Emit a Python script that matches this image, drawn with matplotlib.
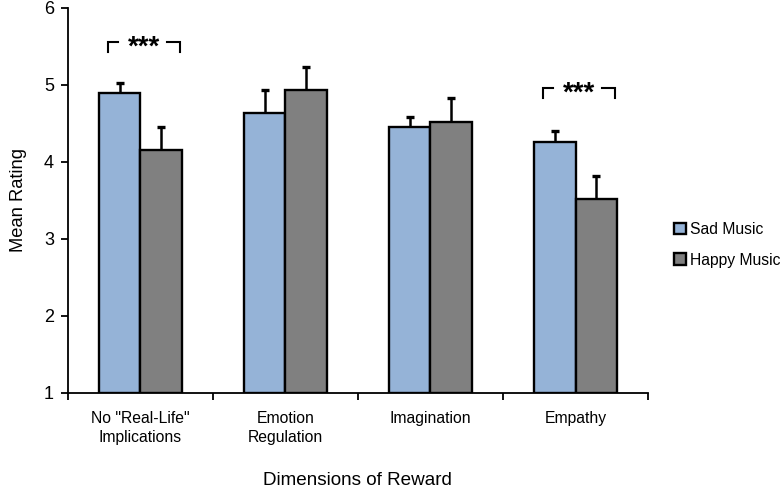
import matplotlib
matplotlib.use("Agg")
import matplotlib.pyplot as plt
import numpy as np

plt.rcParams['font.family'] = ['Liberation Sans', 'DejaVu Sans']

categories = ['No "Real-Life"\nImplications', 'Emotion\nRegulation', 'Imagination', 'Empathy']
sad_values = [4.89, 4.64, 4.45, 4.26]
sad_err = [0.13, 0.30, 0.13, 0.14]
happy_values = [4.16, 4.94, 4.52, 3.515]
happy_err = [0.29, 0.29, 0.31, 0.30]
series_names = ['Sad Music', 'Happy Music']
sig_cats = [0, 3]
sig_levels = [5.56, 4.96]
sig_label = '***'
yticks = [1, 2, 3, 4, 5, 6]

fig = plt.figure(figsize=(7.83, 4.90), dpi=100)
ax = fig.add_axes([0.0868, 0.198, 0.7408, 0.7857])

x = np.arange(len(categories))
w = 0.285
base = 1
sad_c = '#95B3D7'
happy_c = '#808080'

for offs, vals, errs, col, name in [(-w/2, sad_values, sad_err, sad_c, series_names[0]),
                                    (w/2, happy_values, happy_err, happy_c, series_names[1])]:
    vals = np.array(vals)
    errs = np.array(errs)
    ax.bar(x + offs, vals - base, w, bottom=base, color=col, edgecolor='black',
           linewidth=1.7, label=name, zorder=2)
    ax.vlines(x + offs, vals, vals + errs, color='black', lw=1.8, zorder=3)
    ax.plot(x + offs, vals + errs, linestyle='none', marker='_', markersize=6,
            markeredgewidth=2.4, color='black', zorder=3)

for c, lvl in zip(sig_cats, sig_levels):
    left = c - 0.224
    right = c + 0.272
    drop = 0.13
    ax.plot([left, left, c - 0.155], [lvl - drop, lvl, lvl], color='black', lw=1.5, zorder=3,
            solid_joinstyle='miter')
    ax.plot([c + 0.183, right, right], [lvl, lvl, lvl - drop], color='black', lw=1.5, zorder=3,
            solid_joinstyle='miter')
    ax.text(c + 0.024, lvl - 0.07, sig_label, ha='center', va='center', fontsize=20,
            fontweight='bold', zorder=4)

ax.set_xlim(-0.5, len(categories) - 0.5)
ax.set_ylim(1, 6)
ax.set_yticks(yticks)
ax.set_yticklabels([str(t) for t in yticks], fontsize=13)
ax.set_xticks(np.arange(len(categories) + 1) - 0.5)
ax.set_xticklabels([])
ax.set_xticks(x, minor=True)
ax.set_xticklabels(categories, minor=True, fontsize=11.3, linespacing=1.3)
ax.tick_params(axis='x', which='minor', length=0, pad=13)
ax.tick_params(axis='x', which='major', length=5, width=1.3, direction='out')
ax.tick_params(axis='y', length=5, width=1.3, direction='out', pad=5)

for s in ['top', 'right']:
    ax.spines[s].set_visible(False)
for s in ['left', 'bottom']:
    ax.spines[s].set_linewidth(1.3)

ax.set_ylabel('Mean Rating', fontsize=13.2, labelpad=12)
fig.text(0.457, 0.02, 'Dimensions of Reward', ha='center', va='center', fontsize=13.6)

leg = ax.legend(loc='center left', bbox_to_anchor=(1.02, 0.385), frameon=False,
                fontsize=11.3, handlelength=0.75, handleheight=0.75, handletextpad=0.3,
                labelspacing=1.0)

fig.savefig('out.png', dpi=100)
